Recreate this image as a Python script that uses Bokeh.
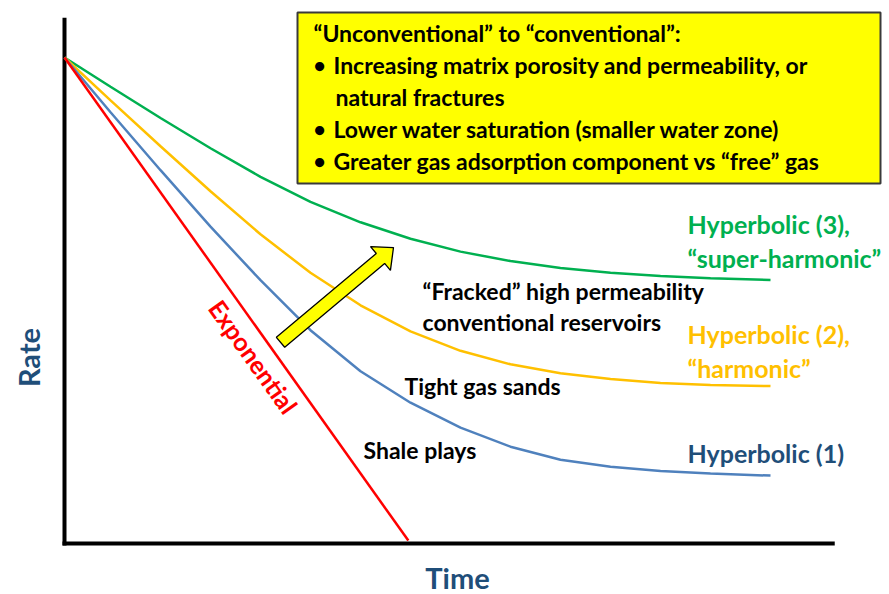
from bokeh.plotting import figure
from bokeh.models import Range1d
from bokeh.core.properties import value
from bokeh.embed import file_html
from bokeh.resources import INLINE
import math

# ---- data (time in arbitrary units 0..100, rate as % of initial) ----
time = [0, 6.52, 13.60, 20.68, 27.76, 34.84, 41.93, 49.01, 56.09, 63.17,
        70.25, 77.34, 84.42, 91.50, 100]
green_r = [100, 93.99, 87.55, 81.32, 75.45, 70.31, 66.09, 62.70, 60.06, 58.11,
           56.71, 55.72, 55.04, 54.57, 54.22]
yellow_r = [100, 91.19, 81.73, 72.47, 63.62, 55.70, 49.01, 43.66, 39.65, 36.87,
            35.02, 33.83, 33.04, 32.63, 32.39]
blue_r = [100, 88.74, 76.81, 65.19, 54.18, 43.89, 35.45, 28.97, 23.83, 19.92,
          17.24, 15.80, 14.92, 14.40, 13.97]

red_t = [0, 48.7]
red_r = [100, 0.6]

axis_t_end = 109.1
axis_r_top = 108.2

arrow_start = (30.6, 41.4)
arrow_end = (46.6, 60.9)

box_lines = [
    "\u201cUnconventional\u201d to \u201cconventional\u201d:",
    "Increasing matrix porosity and permeability, or",
    "natural fractures",
    "Lower water saturation (smaller water zone)",
    "Greater gas adsorption component vs \u201cfree\u201d gas",
]
box_bullets = [False, True, False, True, True]

# ---- page geometry (pixels) -> data mapping ----
W, H = 889, 594
PX = 7.06   # px per time unit
PY = 4.86   # px per rate unit
X0, Y0 = 64, 543  # pixel position of origin


def tx(xp):
    return (xp - X0) / PX


def ry(yp):
    return (Y0 - yp) / PY


p = figure(width=W, height=H, output_backend="svg", toolbar_location=None,
           x_range=Range1d(tx(0), tx(W)), y_range=Range1d(ry(H), ry(0)),
           x_axis_type=None, y_axis_type=None, min_border=0)
p.grid.visible = False
p.outline_line_color = None
p.background_fill_color = "white"

FONT = value("Lato")

# text box
p.quad(left=[tx(297)], right=[tx(880)], top=[ry(12)], bottom=[ry(183)],
       fill_color="#FFFF00", line_color="#3a3a3a", line_width=2)
line_y = [32, 64, 96, 128, 160]
for txt, bul, yy in zip(box_lines, box_bullets, line_y):
    if txt.startswith("natural"):
        xx = 335
    elif bul:
        xx = 333
    else:
        xx = 313
    p.text(x=[tx(xx)], y=[ry(yy)], text=[txt], text_font=FONT, text_font_style="bold",
           text_font_size="23px", text_color="black", text_baseline="middle")
    if bul:
        p.text(x=[tx(313)], y=[ry(yy)], text=["\u2022"], text_font=FONT, text_font_style="bold",
               text_font_size="21px", text_color="black", text_baseline="middle")

# axes
p.line([0, 0], [ry(545), axis_r_top], line_color="black", line_width=4)
p.line([tx(62), axis_t_end], [0, 0], line_color="black", line_width=4)

# curves
p.line(time, green_r, line_color="#00B050", line_width=2.5)
p.line(time, yellow_r, line_color="#FFC000", line_width=2.5)
p.line(time, blue_r, line_color="#4F81BD", line_width=2.5)
p.line(red_t, red_r, line_color="#FF0000", line_width=2.5)

# block arrow (built in pixel space, converted to data)
sx0, sy0 = X0 + arrow_start[0] * PX, Y0 - arrow_start[1] * PY
sx1, sy1 = X0 + arrow_end[0] * PX, Y0 - arrow_end[1] * PY
L = math.hypot(sx1 - sx0, sy1 - sy0)
ux, uy = (sx1 - sx0) / L, (sy1 - sy0) / L
nx, ny = -uy, ux
shaft_w, head_w, head_l = 13, 31, 17
bx, by = sx1 - ux * head_l, sy1 - uy * head_l
pts = [
    (sx0 + nx * shaft_w / 2, sy0 + ny * shaft_w / 2),
    (bx + nx * shaft_w / 2, by + ny * shaft_w / 2),
    (bx + nx * head_w / 2, by + ny * head_w / 2),
    (sx1, sy1),
    (bx - nx * head_w / 2, by - ny * head_w / 2),
    (bx - nx * shaft_w / 2, by - ny * shaft_w / 2),
    (sx0 - nx * shaft_w / 2, sy0 - ny * shaft_w / 2),
]
p.patch([tx(a) for a, b in pts], [ry(b) for a, b in pts], fill_color="#FFFF00",
        line_color="black", line_width=1.3)


def label(xp, yp, s, color, size="23px", angle=0.0, align="left"):
    p.text(x=[tx(xp)], y=[ry(yp)], text=[s], text_font=FONT, text_font_style="bold",
           text_font_size=size, text_color=color, text_baseline="middle",
           text_align=align, angle=angle)


GREEN, ORANGE, NAVY = "#00B050", "#FFC000", "#1F4E79"
label(687, 223, "Hyperbolic (3),", GREEN, size="25px")
label(687, 257, "\u201csuper-harmonic\u201d", GREEN, size="25px")
label(687, 333, "Hyperbolic (2),", ORANGE, size="25px")
label(687, 367, "\u201charmonic\u201d", ORANGE, size="25px")
label(687, 452, "Hyperbolic (1)", NAVY, size="25px")
label(422, 290, "\u201cFracked\u201d high permeability", "black")
label(422, 321, "conventional reservoirs", "black")
label(404, 385, "Tight gas sands", "black")
label(363, 449, "Shale plays", "black")
label(253, 356, "Exponential", "#FF0000", size="25px",
      angle=-math.atan2(483, 344), align="center")
label(28, 357, "Rate", NAVY, size="29px", angle=math.pi / 2, align="center")
label(457, 577, "Time", NAVY, size="29px", align="center")

open("out.html", "w").write(file_html(p, INLINE))
